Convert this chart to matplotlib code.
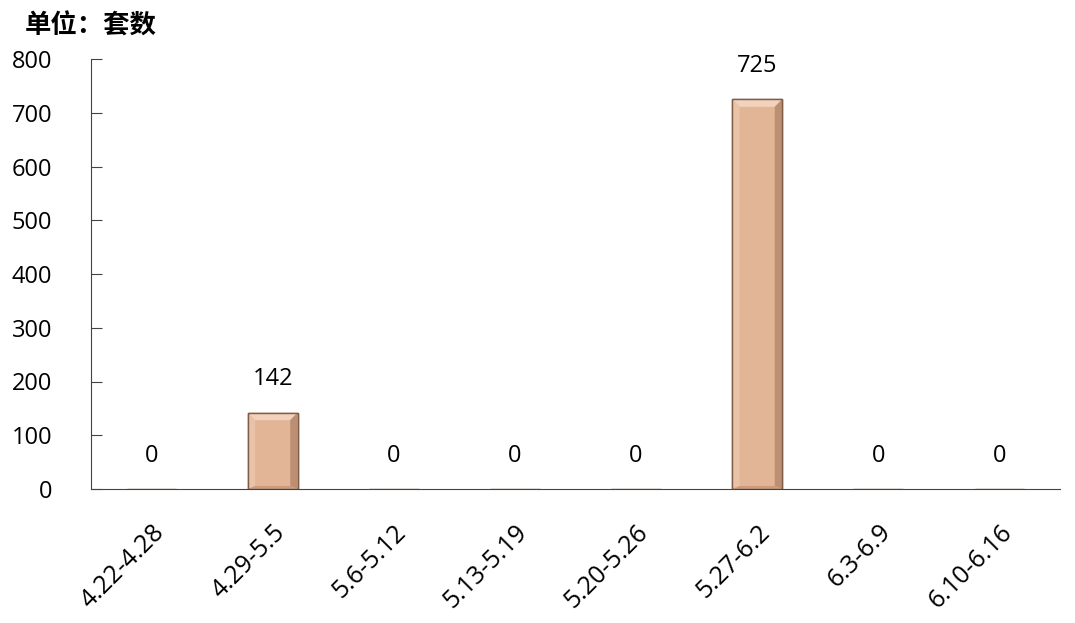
import matplotlib.pyplot as plt
from matplotlib.patches import Polygon
import numpy as np

plt.rcParams['font.family'] = ['Open Sans', 'Noto Sans CJK SC', 'DejaVu Sans']

# 数据
categories = ['4.22-4.28', '4.29-5.5', '5.6-5.12', '5.13-5.19',
              '5.20-5.26', '5.27-6.2', '6.3-6.9', '6.10-6.16']
values = [0, 142, 0, 0, 0, 725, 0, 0]
yticks = [0, 100, 200, 300, 400, 500, 600, 700, 800]

fig = plt.figure(figsize=(10.75, 6.23), dpi=100)
ax = fig.add_axes([91 / 1075, 1 - 489 / 623, (1060 - 91) / 1075, (489 - 59) / 623])

x = np.arange(len(categories))
bars = ax.bar(x, values, width=0.41, color='#E2B597', edgecolor='#7d5c48', linewidth=1.0, zorder=2)

# 斜面效果 (bevel)
bx, by = 0.06, 14
for b in bars:
    h = b.get_height()
    if h <= 0:
        continue
    x0, x1 = b.get_x(), b.get_x() + b.get_width()
    sides = [
        ([(x0, h), (x1, h), (x1 - bx, h - by), (x0 + bx, h - by)], '#F2D2BC'),
        ([(x1, h), (x1, 0), (x1 - bx, by * 0.4), (x1 - bx, h - by)], '#BD8F72'),
        ([(x0, h), (x0, 0), (x0 + bx, by * 0.4), (x0 + bx, h - by)], '#E9C2A7'),
        ([(x0, 0), (x1, 0), (x1 - bx, by * 0.4), (x0 + bx, by * 0.4)], '#C99C80'),
    ]
    for pts, c in sides:
        ax.add_patch(Polygon(pts, closed=True, facecolor=c, edgecolor='none', zorder=3))
    ax.bar(b.get_x() + b.get_width() / 2, h, width=b.get_width(), facecolor='none',
           edgecolor='#7d5c48', linewidth=1.0, zorder=4)

# 数据标签
for xi, v in zip(x, values):
    ax.annotate(str(v), (xi, v), xytext=(0, 24), textcoords='offset points',
                ha='center', va='center', fontsize=17)

ax.set_xlim(-0.5, len(categories) - 0.5)
ax.set_ylim(0, 800)
ax.set_yticks(yticks)
ax.tick_params(axis='y', direction='in', length=8, labelsize=17, pad=28, color='#444444')
ax.tick_params(axis='x', length=0, labelsize=18, pad=22)
ax.set_xticks(x)
ax.set_xticklabels(categories, rotation=45, ha='right', rotation_mode='anchor')

for s in ['top', 'right']:
    ax.spines[s].set_visible(False)
ax.spines['left'].set_color('#444444')
ax.spines['bottom'].set_color('#444444')

fig.text(25 / 1075, 1 - 26 / 623, '单位：套数', fontsize=19, fontweight='bold',
         ha='left', va='center', family=['Noto Sans CJK SC'])

fig.savefig('out.png', dpi=100)
